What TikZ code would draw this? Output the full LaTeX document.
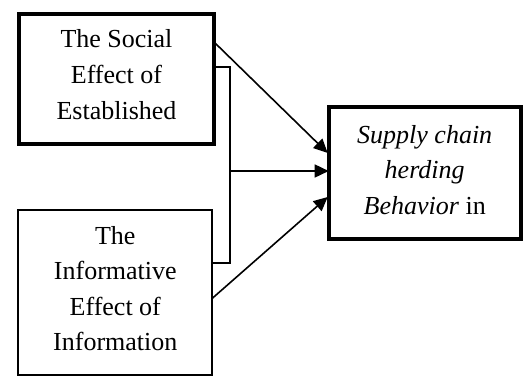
\documentclass[tikz,border=0pt]{standalone}
\usepackage{fontspec}
\setmainfont{LiberationSerif}[Extension=.ttf,UprightFont=*-Regular,ItalicFont=*-Italic,BoldFont=*-Bold,BoldItalicFont=*-BoldItalic]
\usetikzlibrary{arrows.meta,calc}
\begin{document}
\begin{tikzpicture}[x=1pt,y=-1pt,
  box/.style={draw,rectangle,inner sep=0pt,outer sep=0pt},
  txt/.style={align=center,inner sep=0pt,font=\fontsize{26}{35.5}\selectfont},
  arr/.style={line width=1.6pt,-{Triangle[length=14pt,width=13pt]}},
  brk/.style={line width=1.1pt}]
\useasboundingbox (0,0) rectangle (529,376);
\node[box,line width=4pt,minimum width=195pt,minimum height=130pt] (social) at (116.5,79) {};
\node[box,line width=2pt,minimum width=194pt,minimum height=165pt] (info) at (115.3,292.3) {};
\node[box,line width=4pt,minimum width=192pt,minimum height=131.4pt] (behav) at (424.7,173) {};
\node[txt] (socialtxt) at ([yshift=4.4pt]social.center) {The Social\\Effect of\\Established};
\node[txt] (infotxt) at ([yshift=3.7pt]info.center) {The\\Informative\\Effect of\\Information};
\node[txt] (behavtxt) at ([yshift=3pt]behav.center) {\textit{Supply chain}\\\textit{herding}\\\textit{Behavior} in};
\coordinate (bt) at (230,67);
\coordinate (bm) at (230,171);
\coordinate (bb) at (230,263);
\draw[arr] ($(social.east)+(0,-37)$) -- ($(behav.west)+(-1,-20)$);
\draw[brk] (social.east |- bt) -- (bt) -- (bb) -- (info.east |- bb);
\draw[arr] (bm) -- (behav.west |- bm);
\draw[arr] ($(info.east)+(0,6)$) -- ($(behav.west)+(-1,24)$);
\end{tikzpicture}
\end{document}
